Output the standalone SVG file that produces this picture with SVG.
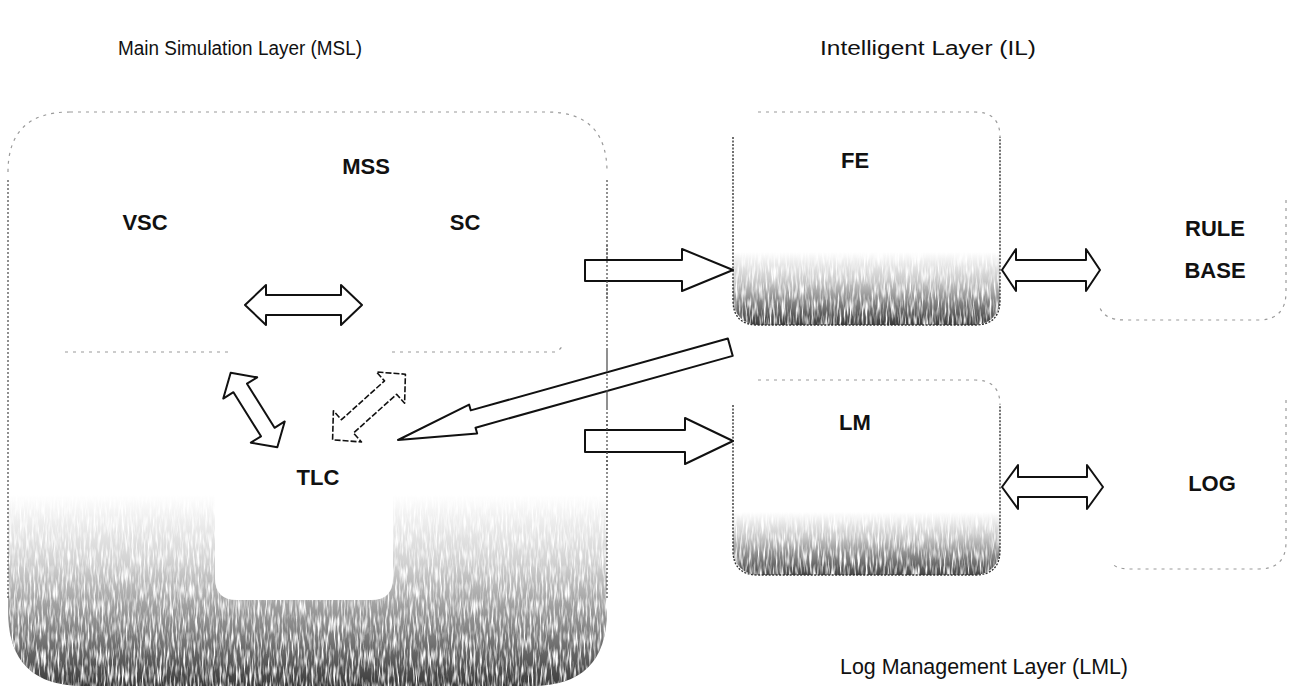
<svg xmlns="http://www.w3.org/2000/svg" width="1295" height="692" viewBox="0 0 1295 692">
<style>
.arrow{fill:#fff;stroke:#111;stroke-width:2;stroke-linejoin:round}
.lbl{font-family:"Liberation Sans",Arial,sans-serif;font-weight:bold;font-size:22px;fill:#111;text-anchor:middle}
.title{font-family:"Liberation Sans",Arial,sans-serif;font-size:20px;fill:#111}
.faint{fill:none;stroke:#9a9a9a;stroke-width:1.2;stroke-dasharray:3 5}
.edge{fill:none;stroke:#555;stroke-width:1.3;stroke-dasharray:2 2}
</style>
<defs>
<linearGradient id="gMain" gradientUnits="userSpaceOnUse" x1="0" y1="495" x2="0" y2="686">
<stop offset="0" stop-color="#fff"/><stop offset="0.35" stop-color="#d2d2d2"/><stop offset="0.7" stop-color="#858585"/><stop offset="1" stop-color="#3a3a3a"/>
</linearGradient>
<linearGradient id="gFE" gradientUnits="userSpaceOnUse" x1="0" y1="252" x2="0" y2="325">
<stop offset="0" stop-color="#fff"/><stop offset="0.4" stop-color="#c8c8c8"/><stop offset="1" stop-color="#3a3a3a"/>
</linearGradient>
<linearGradient id="gLM" gradientUnits="userSpaceOnUse" x1="0" y1="512" x2="0" y2="575">
<stop offset="0" stop-color="#fff"/><stop offset="0.4" stop-color="#c8c8c8"/><stop offset="1" stop-color="#444"/>
</linearGradient>
<filter id="grain" x="0" y="0" width="1" height="1">
<feTurbulence type="fractalNoise" baseFrequency="0.5 0.06" numOctaves="2" seed="7" result="t"/>
<feColorMatrix in="t" type="matrix" values="0 0 0 0 1 0 0 0 0 1 0 0 0 0 1 3 0 0 0 -1.3" result="w"/>
<feComposite in="w" in2="SourceAlpha" operator="in"/>
</filter>
</defs>
<rect width="1295" height="692" fill="#fff"/>

<text class="title" x="118" y="55" textLength="244" lengthAdjust="spacingAndGlyphs">Main Simulation Layer (MSL)</text>
<text class="title" x="820" y="55" textLength="216" lengthAdjust="spacingAndGlyphs">Intelligent Layer (IL)</text>
<text class="title" x="840" y="674" style="font-size:22px" textLength="288" lengthAdjust="spacingAndGlyphs">Log Management Layer (LML)</text>

<g id="msl">
<path d="M70,112 H547 Q607,112 607,172 V611 Q607,686 532,686 H83 Q8,686 8,611 V172 Q8,112 70,112 Z" fill="url(#gMain)"/>
<path d="M70,112 H547 Q607,112 607,172 V611 Q607,686 532,686 H83 Q8,686 8,611 V172 Q8,112 70,112 Z" fill="#fff" filter="url(#grain)"/>
<path d="M70,112 H547 Q607,112 607,172" class="faint"/>
<path d="M8,172 Q8,112 70,112" class="faint"/>
<path d="M8,180 V600" class="edge"/>
<path d="M607,180 V600" class="edge"/>
<path d="M65,352 H233 M392,352 H555 Q561,350 563,344" class="faint"/>
<path d="M215,380 V578 Q215,600 237,600 H371 Q393,600 393,578 V380 Z" fill="#fff"/>
</g>
<g id="mss"><text class="lbl" x="366" y="174">MSS</text></g>
<g id="vsc"><text class="lbl" x="145" y="230">VSC</text></g>
<g id="sc"><text class="lbl" x="465" y="230">SC</text></g>
<g id="tlc"><text class="lbl" x="318" y="485">TLC</text></g>

<g id="fe">
<rect x="733" y="112" width="267" height="213" rx="25" fill="url(#gFE)"/>
<rect x="733" y="112" width="267" height="213" rx="25" fill="#fff" filter="url(#grain)"/>
<path d="M733,137 V300 Q733,325 758,325 H975 Q1000,325 1000,300 V137" fill="none" stroke="#333" stroke-width="1.4" stroke-dasharray="2 1.5"/>
<path d="M758,112 H975 Q1000,112 1000,137" class="faint"/>
<text class="lbl" x="855" y="168">FE</text>
</g>

<g id="lm">
<rect x="733" y="380" width="267" height="195" rx="25" fill="url(#gLM)"/>
<rect x="733" y="380" width="267" height="195" rx="25" fill="#fff" filter="url(#grain)"/>
<path d="M733,405 V550 Q733,575 758,575 H975 Q1000,575 1000,550 V405" fill="none" stroke="#333" stroke-width="1.4" stroke-dasharray="2 1.5"/>
<path d="M758,380 H975 Q1000,380 1000,405" class="faint"/>
<text class="lbl" x="855" y="430">LM</text>
</g>

<g id="rulebase">
<path d="M1286,200 V292 Q1286,320 1258,320 H1125 Q1105,320 1100,308" class="faint"/>
<text class="lbl" x="1215" y="236">RULE</text>
<text class="lbl" x="1215" y="278">BASE</text>
</g>

<g id="log">
<path d="M1286,400 V542 Q1286,569 1259,569 H1130 Q1115,569 1111,562" class="faint"/>
<text class="lbl" x="1212" y="491">LOG</text>
</g>

<g id="connectors">
<polygon class="arrow" points="245,305 266,285 266,295 341,295 341,285 362,305 341,325 341,315 266,315 266,325"/>
<polygon class="arrow" transform="translate(254,410) rotate(58)" points="-44,0 -26,-20 -26,-8 26,-8 26,-20 44,0 26,20 26,8 -26,8 -26,20"/>
<polygon class="arrow" transform="translate(369,407) rotate(-42)" points="-49,0 -29,-21 -29,-9 29,-9 29,-21 49,0 29,21 29,9 -29,9 -29,21" style="stroke-width:1.6;stroke-dasharray:6 2"/>
<polygon class="arrow" points="585,260 682,260 682,249 733,270 682,291 682,281 585,281"/>
<polygon class="arrow" points="585,430 685,430 685,418 733,441 685,464 685,452 585,452"/>
<polygon class="arrow" points="1002,270 1016,249 1016,260 1086,260 1086,249 1100,270 1086,291 1086,281 1016,281 1016,291"/>
<polygon class="arrow" points="1002,487 1018,465 1018,477 1087,477 1087,465 1103,487 1087,509 1087,497 1018,497 1018,509"/>
<polygon class="arrow" transform="translate(398,440) rotate(-15.6)" points="0,0 78,-15 78,-9 345,-9 345,9 78,9 78,15"/>
<path d="M607,245 V300 M607,350 V410 M607,420 V470" class="edge"/>
</g>
</svg>
